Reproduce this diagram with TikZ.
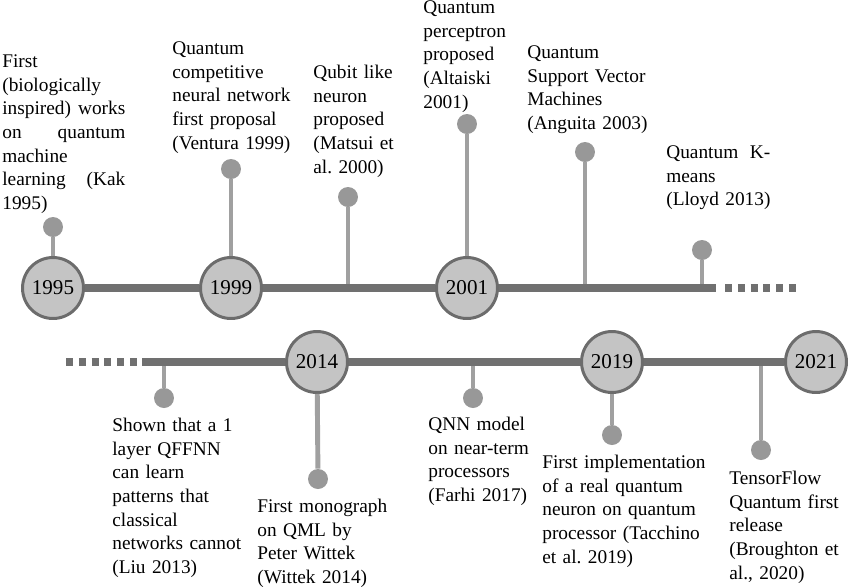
\documentclass[tikz,border=0pt]{standalone}
\usepackage{fontspec}
\setmainfont{Liberation Serif}
\frenchspacing
\definecolor{axisgray}{RGB}{112,112,112}
\definecolor{ringgray}{RGB}{108,108,108}
\definecolor{fillgray}{RGB}{196,196,196}
\definecolor{stemgray}{RGB}{160,160,160}
\definecolor{dotgray}{RGB}{152,152,152}
\newcommand\spreadline[2]{\leavevmode\hbox to #1{#2}}
\tikzset{x=0.02cm,y=-0.02cm,
  year/.style={circle,draw=ringgray,line width=1.7pt,fill=fillgray,minimum size=1.22cm,inner sep=0pt,font=\fontsize{12}{14}\selectfont},
  dot/.style={circle,fill=dotgray,minimum size=0.4cm,inner sep=0pt},
  stem/.style={draw=stemgray,line width=2.8pt},
  axis/.style={draw=axisgray,line width=4pt},
  axisdots/.style={axis,dash pattern=on 3.97pt off 3.3pt},
  lbl/.style={anchor=north west,inner sep=0pt,align=left,text width=3.6cm,font=\fontsize{11}{13.4}\selectfont}}

\begin{document}
\begin{tikzpicture}
    \useasboundingbox (0,0) rectangle (850,586);
    % upper time line
    \node[year] (y1995) at (53,288) {1995};
    \node[year] (y1999) at (231,288) {1999};
    \node[year] (y2001) at (467,288) {2001};
    \coordinate (topend) at (716,288);
    \coordinate (topdots) at (725,288);
    \coordinate (topstop) at (797,288);
    \node[dot] (kak) at (53,227) {};
    \node[dot] (ventura) at (231,169) {};
    \node[dot] (matsui) at (348,197) {};
    \node[dot] (altaiski) at (467,124) {};
    \node[dot] (anguita) at (585,152) {};
    \node[dot] (lloyd) at (702,250) {};
    \draw[stem] (y1995) -- (kak);
    \draw[stem] (y1999) -- (ventura);
    \draw[stem] (matsui |- y1995) -- (matsui);
    \draw[stem] (y2001) -- (altaiski);
    \draw[stem] (anguita |- y1995) -- (anguita);
    \draw[stem] (lloyd |- y1995) -- (lloyd);
    \draw[axis] (y1995) -- (y1999) (y1999) -- (y2001) (y2001) -- (topend);
    \draw[axisdots] (topdots) -- (topstop);

    % lower time line
    \node[year] (y2014) at (317,362) {2014};
    \node[year] (y2019) at (612,362) {2019};
    \node[year] (y2021) at (816,362) {2021};
    \coordinate (botdots) at (66,362);
    \coordinate (botstop) at (137,362);
    \coordinate (botstart) at (142,362);
    \node[dot] (liu) at (164,398) {};
    \node[dot] (wittek) at (318,479) {};
    \node[dot] (farhi) at (473,398) {};
    \node[dot] (tacchino) at (612,435) {};
    \node[dot] (broughton) at (761,450) {};
    \draw[stem] (liu |- botstart) -- (liu);
    \draw[stem] (y2014) -- (wittek);
    \draw[stem] (farhi |- botstart) -- (farhi);
    \draw[stem] (y2019) -- (tacchino);
    \draw[stem] (broughton |- botstart) -- (broughton);
    \draw[axis] (botstart) -- (y2014) (y2014) -- (y2019) (y2019) -- (y2021);
    \draw[axisdots] (botdots) -- (botstop);

    % texts
    \node[lbl] (tkak) at (2,51) {\strut First\\(biologically\\\spreadline{2.46cm}{inspired)\hfill works}\\\spreadline{2.46cm}{on\hfill quantum}\\machine\\\spreadline{2.46cm}{learning\hfill (Kak}\\1995)};
    \node[lbl] (tventura) at (172,38) {\strut Quantum\\competitive\\neural network\\first proposal\\(Ventura 1999)};
    \node[lbl] (tmatsui) at (313,62) {\strut Qubit like\\neuron\\proposed\\(Matsui et\\al. 2000)};
    \node[lbl] (taltaiski) at (423,-3) {\strut Quantum\\perceptron\\proposed\\(Altaiski\\2001)};
    \node[lbl] (tanguita) at (527,42) {\strut Quantum\\Support Vector\\Machines\\(Anguita 2003)};
    \node[lbl] (tlloyd) at (666,142) {\strut\spreadline{2.08cm}{Quantum\hfill K-}\\means\\(Lloyd 2013)};
    \node[lbl] (tliu) at (112,415) {\strut Shown that a 1\\layer QFFNN\\can learn\\patterns that\\classical\\networks cannot\\(Liu 2013)};
    \node[lbl] (twittek) at (257,496) {\strut First monograph\\on QML by\\Peter Wittek\\(Wittek 2014)};
    \node[lbl] (tfarhi) at (428,414) {\strut QNN model\\on near-term\\processors\\(Farhi 2017)};
    \node[lbl] (ttacchino) at (542,452) {\strut First implementation\\of a real quantum\\neuron on quantum\\processor (Tacchino\\et al. 2019)};
    \node[lbl] (tbroughton) at (729,468) {\strut TensorFlow\\Quantum first\\release\\(Broughton et\\al., 2020)};
\end{tikzpicture}
\end{document}
